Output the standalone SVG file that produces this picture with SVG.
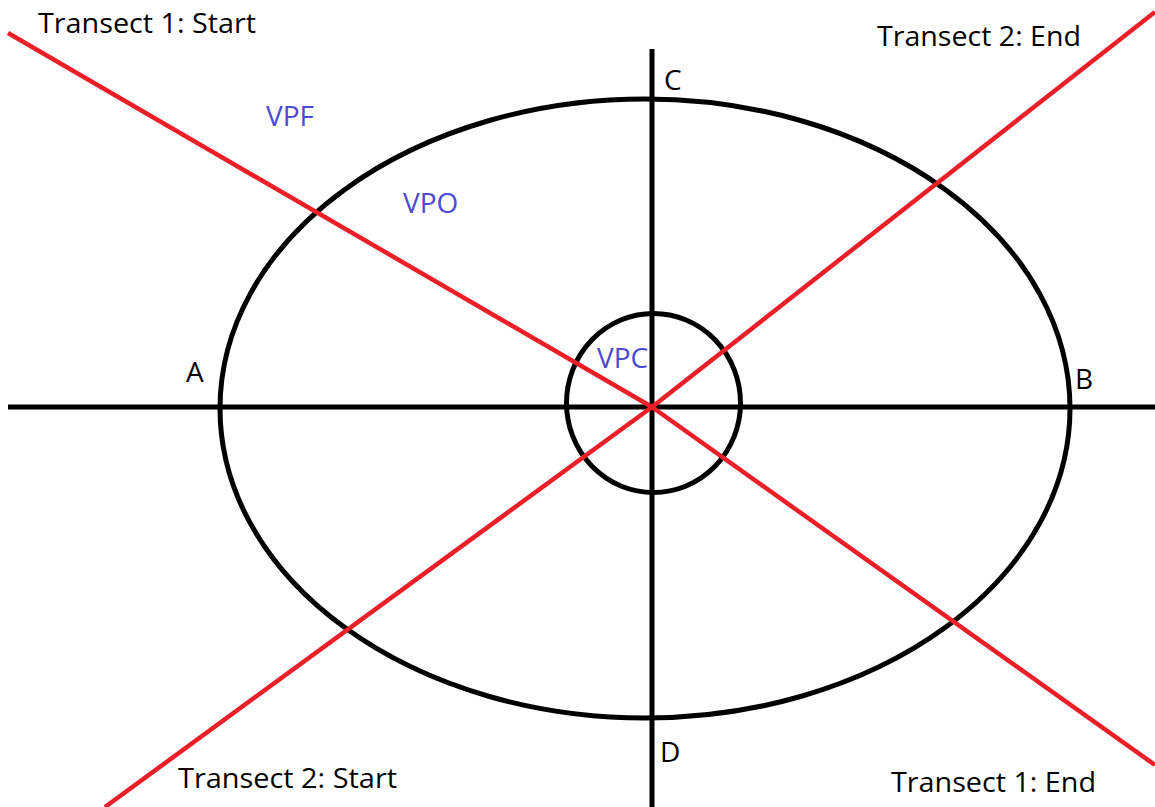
<svg xmlns="http://www.w3.org/2000/svg" width="1155" height="807" viewBox="0 0 1155 807">
<style>
.blk{fill:none;stroke:#000;stroke-width:5}
.red{fill:none;stroke:#ea1f27;stroke-width:4.5;stroke-linejoin:round}
.t{font-family:"Open Sans","Liberation Sans",sans-serif;font-size:28px;fill:#000}
.b{font-family:"Open Sans","Liberation Sans",sans-serif;font-size:28px;fill:#4b4bd2}
</style>
<rect width="1155" height="807" fill="#fff"/>
<g id="shapes">
<ellipse id="outer" class="blk" cx="645" cy="408.5" rx="425" ry="309.5"/>
<ellipse id="inner" class="blk" cx="653.5" cy="403" rx="87" ry="89.5"/>
</g>
<g id="connectors">
<line class="blk" x1="8" y1="407" x2="1155" y2="407"/>
<line class="blk" x1="652" y1="49" x2="652" y2="807"/>
<polyline class="red" points="8,33 652,407 1155,765"/>
<polyline class="red" points="105,807 652,407 1155,12"/>
</g>
<g id="labels">
<text class="t" x="38" y="33" textLength="218" lengthAdjust="spacingAndGlyphs">Transect 1: Start</text>
<text class="t" x="877" y="46" textLength="204" lengthAdjust="spacingAndGlyphs">Transect 2: End</text>
<text class="t" x="178" y="788" textLength="219" lengthAdjust="spacingAndGlyphs">Transect 2: Start</text>
<text class="t" x="891" y="792" textLength="205" lengthAdjust="spacingAndGlyphs">Transect 1: End</text>
<text class="b" x="266" y="126">VPF</text>
<text class="b" x="403" y="213">VPO</text>
<text class="b" x="597" y="368">VPC</text>
<text class="t" x="186" y="382">A</text>
<text class="t" x="1075" y="389">B</text>
<text class="t" x="664" y="90">C</text>
<text class="t" x="660" y="762">D</text>
</g>
</svg>
